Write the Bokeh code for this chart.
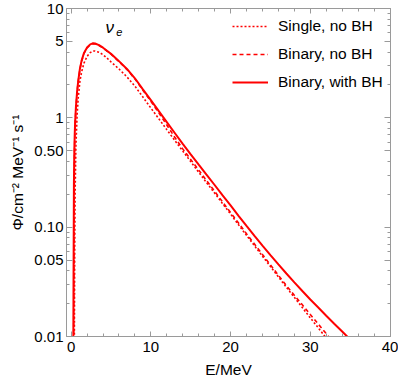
from bokeh.plotting import figure
from bokeh.models import FixedTicker, LinearAxis, LogAxis, Label, CustomJSTickFormatter
from bokeh.embed import file_html
from bokeh.resources import INLINE

# ---- data ----
energy = [0.25, 0.30, 0.35, 0.40, 0.45, 0.50, 0.60, 0.75, 0.90, 1.1, 1.3, 1.6, 2.0, 2.4, 2.7,
          3.0, 3.5, 4.0, 4.5, 5, 6, 7, 8, 9, 10, 11, 12, 13, 14, 15, 16, 17, 18, 19, 20,
          21, 22, 23, 24, 25, 26, 27, 28, 29, 30, 31, 32, 33, 34, 35, 36]

phi_single_nobh = [0.0005, 0.001, 0.003, 0.007, 0.06, 0.2, 0.55, 1.05, 1.55, 2.15, 2.6, 3.15, 3.65, 3.95, 4.08,
                   4.08, 3.98, 3.78, 3.52, 3.25, 2.8, 2.37, 1.95, 1.55, 1.23, 0.98, 0.78, 0.622, 0.497, 0.398, 0.318, 0.255, 0.205, 0.164, 0.132,
                   0.105, 0.0841, 0.0676, 0.0543, 0.0437, 0.0351, 0.0282, 0.0228, 0.0184, 0.0148, 0.0120, 0.00966, 0.0078, 0.0063, 0.0051, 0.0041]

phi_binary_nobh = [0.001, 0.005, 0.03, 0.3, 0.6, 0.85, 1.22, 1.72, 2.17, 2.77, 3.27, 3.87, 4.37, 4.67, 4.77,
                   4.75, 4.59, 4.35, 4.07, 3.82, 3.27, 2.77, 2.27, 1.79, 1.42, 1.11, 0.86, 0.665, 0.52, 0.416, 0.333, 0.266, 0.213, 0.170, 0.136,
                   0.109, 0.0871, 0.070, 0.0562, 0.0452, 0.0363, 0.0292, 0.0238, 0.0195, 0.0159, 0.0130, 0.0106, 0.00865, 0.0071, 0.0058, 0.0047]

phi_binary_bh = [0.002, 0.03, 0.25, 0.5, 0.7, 0.9, 1.25, 1.75, 2.2, 2.8, 3.3, 3.9, 4.4, 4.7, 4.8,
                 4.78, 4.62, 4.38, 4.1, 3.85, 3.3, 2.8, 2.3, 1.82, 1.45, 1.15, 0.915, 0.727, 0.578, 0.463, 0.373, 0.301, 0.243, 0.195, 0.158,
                 0.127, 0.1026, 0.0832, 0.0678, 0.0555, 0.0456, 0.0377, 0.0313, 0.0261, 0.0218, 0.0184, 0.0155, 0.0131, 0.0111, 0.0094, 0.0080]

series_labels = ["Single, no BH", "Binary, no BH", "Binary, with BH"]

x_major_ticks = [0, 10, 20, 30, 40]
x_minor_ticks = [2, 4, 6, 8, 12, 14, 16, 18, 22, 24, 26, 28, 32, 34, 36, 38]
y_major_ticks = [0.01, 0.05, 0.1, 0.5, 1, 5, 10]
y_major_labels = ["0.01", "0.05", "0.10", "0.50", "1", "5", "10"]
y_minor_ticks = [0.02, 0.03, 0.04, 0.06, 0.07, 0.08, 0.09, 0.2, 0.3, 0.4, 0.6, 0.7, 0.8, 0.9,
                 2, 3, 4, 6, 7, 8, 9]

FONT = "Liberation Sans"
FRAME = "#9a9a9a"
RED = "#ff0000"

p = figure(frame_width=324, frame_height=328, y_axis_type="log",
           x_range=(-0.58, 40.06), y_range=(0.01, 10),
           output_backend="svg", toolbar_location=None,
           min_border_left=66, min_border_right=8, min_border_top=8, min_border_bottom=46)
p.background_fill_color = "white"
p.border_fill_color = "white"
p.grid.grid_line_color = None
p.outline_line_color = FRAME

p.line(energy, phi_single_nobh, color=RED, line_width=1.6, line_dash="2 2", legend_label=series_labels[0])
p.line(energy, phi_binary_nobh, color=RED, line_width=1.6, line_dash="4 3", legend_label=series_labels[1])
p.line(energy, phi_binary_bh, color=RED, line_width=2.0, legend_label=series_labels[2])

xt = FixedTicker(ticks=x_major_ticks, minor_ticks=x_minor_ticks)
yt = FixedTicker(ticks=y_major_ticks, minor_ticks=y_minor_ticks)

blank = CustomJSTickFormatter(code="return '';")
top = LinearAxis(ticker=xt, formatter=blank)
right = LogAxis(ticker=yt, formatter=blank)
p.add_layout(top, "above")
p.add_layout(right, "right")

xa = p.below[0]
ya = p.left[0]
xa.ticker = xt
ya.ticker = yt
ya.major_label_overrides = {v: s for v, s in zip(y_major_ticks, y_major_labels)}

for ax in [xa, ya, top, right]:
    ax.axis_line_color = FRAME
    ax.major_tick_line_color = FRAME
    ax.minor_tick_line_color = FRAME
    ax.major_tick_out = 0
    ax.minor_tick_out = 0
    ax.major_tick_in = 5
    ax.minor_tick_in = 3
    ax.major_label_text_font = FONT
    ax.major_label_text_font_size = "15px"
    ax.major_label_text_color = "black"
    ax.axis_label_text_font = FONT
    ax.axis_label_text_font_size = "15.5px"
    ax.axis_label_text_font_style = "normal"
    ax.axis_label_text_color = "black"

ya.major_tick_in = 6
right.major_tick_in = 6

for ax in [top, right]:
    ax.major_label_standoff = 0
    ax.axis_label = None

xa.major_label_standoff = 5
xa.axis_label = "E/MeV"
xa.axis_label_standoff = 6
ya.major_label_standoff = 3
ya.axis_label = "Φ/cm⁻² MeV⁻¹ s⁻¹"
ya.axis_label_standoff = 5

# nu_e label
p.add_layout(Label(x=4.3, y=6.67, text="ν", text_font=FONT, text_font_style="italic",
                   text_font_size="17px", text_baseline="alphabetic", text_color="black"))
p.add_layout(Label(x=5.65, y=6.15, text="e", text_font=FONT, text_font_style="italic",
                   text_font_size="11px", text_baseline="alphabetic", text_color="black"))

lg = p.legend[0]
lg.location = (166, 244)
lg.margin = 0
lg.padding = 5
lg.border_line_color = None
lg.background_fill_alpha = 0
lg.label_text_font = FONT
lg.label_text_font_size = "15.5px"
lg.label_text_color = "black"
lg.glyph_width = 36
lg.glyph_height = 20
lg.label_height = 20
lg.label_standoff = 10
lg.spacing = 8

open("out.html", "w").write(file_html(p, INLINE))
